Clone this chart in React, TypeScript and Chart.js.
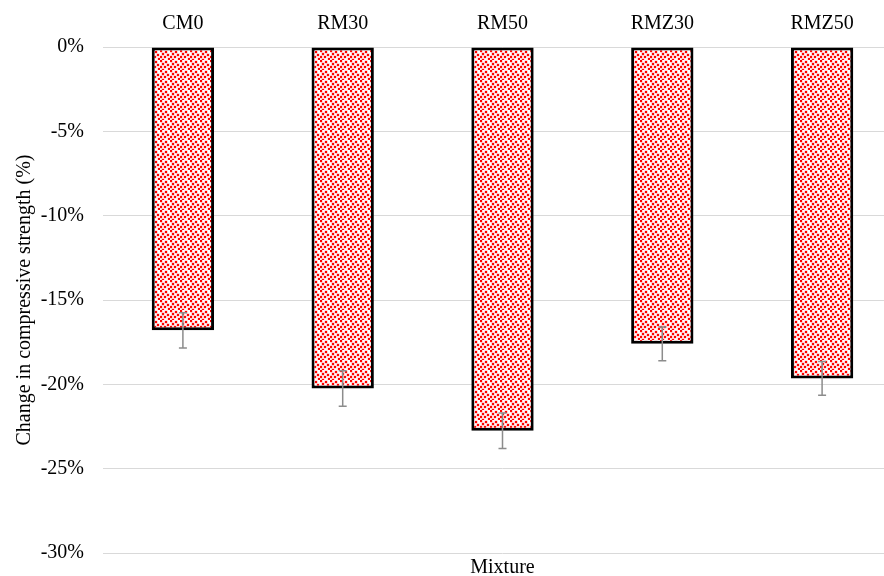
import React, { useEffect, useRef } from "react";
import { Chart, registerables } from "chart.js";

Chart.register(...registerables);

const categories = ["CM0", "RM30", "RM50", "RMZ30", "RMZ50"];
const changeValues = [-16.8, -20.25, -22.75, -17.6, -19.65];
const errorValues = [1.05, 1.05, 1.05, 1.0, 1.0];
const yTicks = [0, -5, -10, -15, -20, -25, -30];

function makePattern(): CanvasPattern | string {
  const c = document.createElement("canvas");
  c.width = 10;
  c.height = 10;
  const ctx = c.getContext("2d");
  if (!ctx) return "#f66";
  ctx.fillStyle = "#ffffff";
  ctx.fillRect(0, 0, 10, 10);
  const dots = [
    [0, 0], [5, 1], [2, 3], [7, 4], [0, 6], [4, 6], [8, 8], [2, 9],
  ];
  for (const [x, y] of dots) {
    ctx.fillStyle = "rgba(255,0,0,0.3)";
    ctx.fillRect(x - 0.5, y - 0.5, 3, 3);
    ctx.fillStyle = "#ff0000";
    ctx.fillRect(x, y, 2, 2);
  }
  const p = ctx.createPattern(c, "repeat");
  return p || "#f66";
}

const errorBarPlugin = {
  id: "errorBars",
  afterDatasetsDraw(chart: any) {
    const meta = chart.getDatasetMeta(0);
    const yScale = chart.scales.y;
    const ctx = chart.ctx;
    ctx.save();
    ctx.strokeStyle = "#8c8c8c";
    ctx.lineWidth = 1.5;
    meta.data.forEach((bar: any, i: number) => {
      const v = changeValues[i];
      const e = errorValues[i];
      const x = bar.x;
      const yTop = yScale.getPixelForValue(v + e);
      const yBot = yScale.getPixelForValue(v - e);
      ctx.beginPath();
      ctx.moveTo(x, yTop);
      ctx.lineTo(x, yBot);
      ctx.moveTo(x - 4, yTop);
      ctx.lineTo(x + 4, yTop);
      ctx.moveTo(x - 4, yBot);
      ctx.lineTo(x + 4, yBot);
      ctx.stroke();
    });
    ctx.restore();
  },
};

export default function App() {
  const ref = useRef<HTMLCanvasElement>(null);
  useEffect(() => {
    if (!ref.current) return;
    const font = "'Liberation Serif', 'Times New Roman', serif";
    const chart = new Chart(ref.current, {
      type: "bar",
      data: {
        labels: categories,
        datasets: [
          {
            data: changeValues,
            backgroundColor: makePattern() as any,
            borderColor: "#000000",
            borderWidth: 3,
            borderSkipped: false,
            barPercentage: 0.39,
            categoryPercentage: 1,
          },
        ],
      },
      options: {
        animation: false,
        responsive: false,
        maintainAspectRatio: false,
        layout: { padding: { left: 0, right: 0, top: 0, bottom: 0 } },
        plugins: {
          legend: { display: false },
          tooltip: { enabled: false },
        },
        scales: {
          x: {
            position: "top",
            grid: { display: false, drawTicks: false },
            border: { display: false },
            ticks: {
              color: "#000",
              font: { family: font, size: 20 },
              padding: 11.5,
            },
          },
          x2: {
            type: "category",
            labels: categories,
            position: "bottom",
            grid: { display: false, drawTicks: false },
            border: { display: false },
            ticks: { display: false },
            title: {
              display: true,
              text: "Mixture",
              color: "#000",
              font: { family: font, size: 20 },
              padding: { top: 3, bottom: 3 },
            },
          },
          y: {
            min: -30,
            max: 0,
            afterBuildTicks: (axis: any) => {
              axis.ticks = yTicks.map((v) => ({ value: v }));
            },
            afterFit: (s: any) => {
              s.width = 103;
            },
            grid: { color: "#d9d9d9", lineWidth: 1, drawTicks: false },
            border: { display: false },
            ticks: {
              color: "#000",
              font: { family: font, size: 20 },
              padding: 19,
              callback: (v: any) => `${v}%`,
            },
            title: {
              display: true,
              text: "Change in compressive strength (%)",
              color: "#000",
              font: { family: font, size: 20 },
              padding: { top: 13, bottom: 0 },
            },
          },
        },
      },
      plugins: [errorBarPlugin],
    });
    return () => chart.destroy();
  }, []);
  return (
    <div style={{ position: "fixed", left: 0, top: 0, width: 884, height: 576, overflow: "hidden", background: "#fff" }}>
      <canvas ref={ref} width={902} height={584} style={{ display: "block" }} />
    </div>
  );
}
